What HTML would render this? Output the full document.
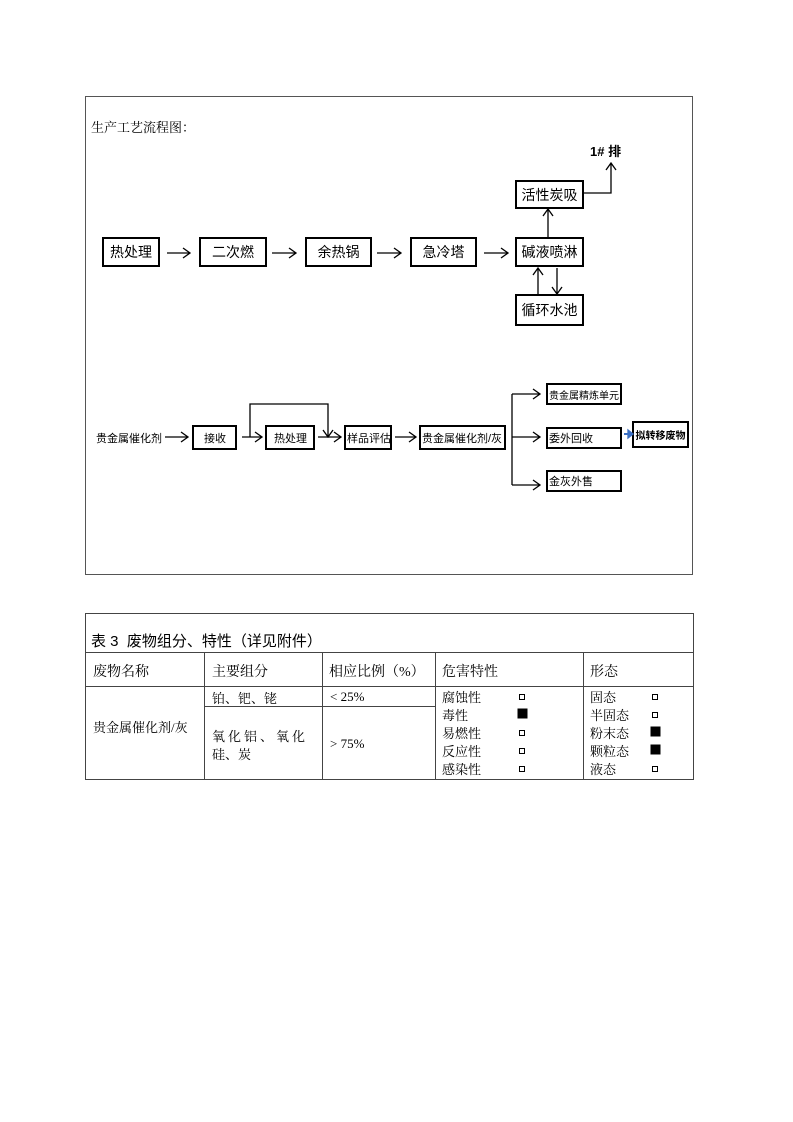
<!DOCTYPE html>
<html><head><meta charset="utf-8"><style>
body{margin:0;width:793px;height:1122px;background:#fff;position:relative;font-family:"Liberation Sans","Noto Sans CJK SC",sans-serif;}
.a{position:absolute;}
.b{position:absolute;border:2px solid #000;box-sizing:border-box;display:flex;align-items:center;justify-content:center;font-size:14px;white-space:nowrap;overflow:hidden;}
.s{font-size:11px;justify-content:flex-start;padding-left:1px;}
.t{font-family:"Liberation Serif","Noto Serif CJK SC",serif;font-size:13px;position:absolute;white-space:nowrap;}
</style></head><body>
<div class="a" style="left:85px;top:96px;width:608px;height:479px;border:1px solid #555;box-sizing:border-box"></div>
<div class="t" style="left:91px;top:117px;font-size:13px">生产工艺流程图：</div>
<div class="b" style="left:102px;top:237px;width:58px;height:30px">热处理</div>
<div class="b" style="left:199px;top:237px;width:68px;height:30px">二次燃</div>
<div class="b" style="left:305px;top:237px;width:67px;height:30px">余热锅</div>
<div class="b" style="left:410px;top:237px;width:67px;height:30px">急冷塔</div>
<div class="b" style="left:515px;top:237px;width:69px;height:30px">碱液喷淋</div>
<div class="b" style="left:515px;top:180px;width:69px;height:29px">活性炭吸</div>
<div class="b" style="left:515px;top:294px;width:69px;height:32px">循环水池</div>
<div class="a" style="left:590px;top:141px;font-size:13px;font-weight:bold">1# 排</div>
<div class="a" style="left:96px;top:430px;font-size:11px">贵金属催化剂</div>
<div class="b s" style="left:192px;top:425px;width:45px;height:25px;justify-content:center">接收</div>
<div class="b s" style="left:265px;top:425px;width:50px;height:25px;justify-content:center">热处理</div>
<div class="b s" style="left:344px;top:425px;width:48px;height:25px">样品评估</div>
<div class="b s" style="left:419px;top:425px;width:87px;height:25px">贵金属催化剂/灰</div>
<div class="b s" style="left:546px;top:383px;width:76px;height:22px;font-size:10px">贵金属精炼单元</div>
<div class="b s" style="left:546px;top:427px;width:76px;height:22px">委外回收</div>
<div class="b s" style="left:546px;top:470px;width:76px;height:22px">金灰外售</div>
<div class="b s" style="left:632px;top:421px;width:57px;height:27px;font-weight:bold;font-size:10px;padding:0;justify-content:center">拟转移废物</div>
<svg class="a" style="left:0;top:0" width="793" height="600" fill="none" stroke="#000" stroke-width="1.3">
<path d="M167 253H190M183 248L190 253L183 258"/>
<path d="M272 253H296M289 248L296 253L289 258"/>
<path d="M377 253H401M394 248L401 253L394 258"/>
<path d="M484 253H508M501 248L508 253L501 258"/>
<path d="M548 237V209M543 216L548 209L553 216"/>
<path d="M538 294V268M533 275L538 268L543 275"/>
<path d="M557 268V294M552 287L557 294L562 287"/>
<path d="M584 193H611V163M606 170L611 163L616 170"/>
<path d="M165 437H188M181 432L188 437L181 442"/>
<path d="M242 437H262M255 432L262 437L255 442"/>
<path d="M250 437V404H328V437M323 430L328 437L333 430"/>
<path d="M318 437H341M334 432L341 437L334 442"/>
<path d="M395 437H416M409 432L416 437L409 442"/>
<path d="M512 437H540M533 432L540 437L533 442"/>
<path d="M512 394V485"/>
<path d="M512 394H540M533 389L540 394L533 399"/>
<path d="M512 485H540M533 480L540 485L533 490"/>
<path d="M624 434H630" stroke="#3a6fc4" stroke-width="2"/><path d="M628 430L633 434L628 438Z" fill="#3a6fc4" stroke="#3a6fc4"/>
</svg>
<svg class="a" style="left:0;top:0" width="793" height="800" fill="none" stroke="#444" stroke-width="1">
<rect x="85.5" y="613.5" width="608" height="166"/>
<path d="M85 652.5H693M85 686.5H693M204 706.5H435M204.5 652V779M322.5 652V779M435.5 652V779M583.5 652V779"/>
</svg>
<div class="t" style="left:91px;top:630px;font-size:15px;font-family:'Liberation Sans','Noto Sans CJK SC',sans-serif">表 3&nbsp; 废物组分、特性（详见附件）</div>
<div class="t" style="left:93px;top:661px;font-size:14px">废物名称</div>
<div class="t" style="left:212px;top:661px;font-size:14px">主要组分</div>
<div class="t" style="left:329px;top:661px;font-size:14px">相应比例（%）</div>
<div class="t" style="left:442px;top:661px;font-size:14px">危害特性</div>
<div class="t" style="left:590px;top:661px;font-size:14px">形态</div>
<div class="t" style="left:93px;top:717px">贵金属催化剂/灰</div>
<div class="t" style="left:212px;top:688px">铂、钯、铑</div>
<div class="t" style="left:212px;top:726px;letter-spacing:3px">氧化铝、氧化</div>
<div class="t" style="left:212px;top:744px">硅、炭</div>
<div class="t" style="left:330px;top:689px">&lt; 25%</div>
<div class="t" style="left:330px;top:736px">&gt; 75%</div>
<div class="t" style="left:442px;top:689px;line-height:18px">腐蚀性<br>毒性<br>易燃性<br>反应性<br>感染性</div>
<div class="t" style="left:590px;top:689px;line-height:18px">固态<br>半固态<br>粉末态<br>颗粒态<br>液态</div>
<svg class="a" style="left:0;top:0" width="793" height="800" stroke="#000" stroke-width="1">
<rect x="519.5" y="694.5" width="5" height="5" fill="none"/>
<rect x="518" y="709" width="9" height="9" fill="#000"/>
<rect x="519.5" y="730.5" width="5" height="5" fill="none"/>
<rect x="519.5" y="748.5" width="5" height="5" fill="none"/>
<rect x="519.5" y="766.5" width="5" height="5" fill="none"/>
<rect x="652.5" y="694.5" width="5" height="5" fill="none"/>
<rect x="652.5" y="712.5" width="5" height="5" fill="none"/>
<rect x="651" y="727" width="9" height="9" fill="#000"/>
<rect x="651" y="745" width="9" height="9" fill="#000"/>
<rect x="652.5" y="766.5" width="5" height="5" fill="none"/>
</svg>
</body></html>
